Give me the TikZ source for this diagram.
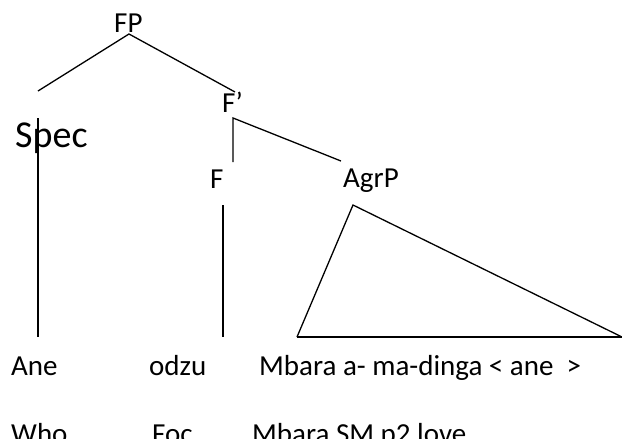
\documentclass[tikz,border=0pt]{standalone}
\usepackage{fontspec}
\setmainfont{Carlito}

\begin{document}
\begin{tikzpicture}[x=1pt, y=-1pt,
    lbl/.style={anchor=base west, inner sep=0pt, font=\fontsize{29}{34}\selectfont},
    branch/.style={line width=1.3pt}]
    \useasboundingbox (0,0) rectangle (622,439);
    \clip (0,0) rectangle (622,439);

    % tree labels
    \node[lbl] (fp) at (114,32) {FP};
    \node[lbl] (fbar) at (222,112) {F’};
    \node[lbl, font=\fontsize{38}{44}\selectfont] (spec) at (15,147) {Spec};
    \node[lbl] (f) at (210,188) {F};
    \node[lbl] (agrp) at (343,187) {AgrP};

    % words and glosses
    \node[lbl] (ane) at (11,375) {Ane};
    \node[lbl] (odzu) at (149,375) {odzu};
    \node[lbl] (rest) at (259,375) {Mbara a- ma-dinga < ane~ >};
    \node[lbl] (who) at (11,443) {Who};
    \node[lbl] (foc) at (152,443) {Foc};
    \node[lbl] (gloss) at (252,443) {Mbara SM p2 love};

    % branch ends
    \coordinate (fp-foot) at (129,34);
    \coordinate (spec-top) at (38,91);
    \coordinate (fbar-top) at (235,92);
    \coordinate (fbar-foot) at (233,118);
    \coordinate (f-top) at (233,162);
    \coordinate (agrp-top) at (341,161);
    \coordinate (spec-foot) at (38,118);
    \coordinate (ane-top) at (38,337);
    \coordinate (f-foot) at (223,205);
    \coordinate (odzu-top) at (223,337);
    \coordinate (tri-apex) at (353,205);
    \coordinate (tri-left) at (297,337);
    \coordinate (tri-right) at (622,337);

    \draw[branch] (spec-top) -- (fp-foot) -- (fbar-top);
    \draw[branch] (f-top) -- (fbar-foot) -- (agrp-top);
    \draw[branch] (spec-foot) -- (ane-top);
    \draw[branch] (f-foot) -- (odzu-top);
    \draw[branch] (tri-left) -- (tri-apex) -- (tri-right);
    \draw[line width=2pt] (tri-left) -- (tri-right);
\end{tikzpicture}
\end{document}
